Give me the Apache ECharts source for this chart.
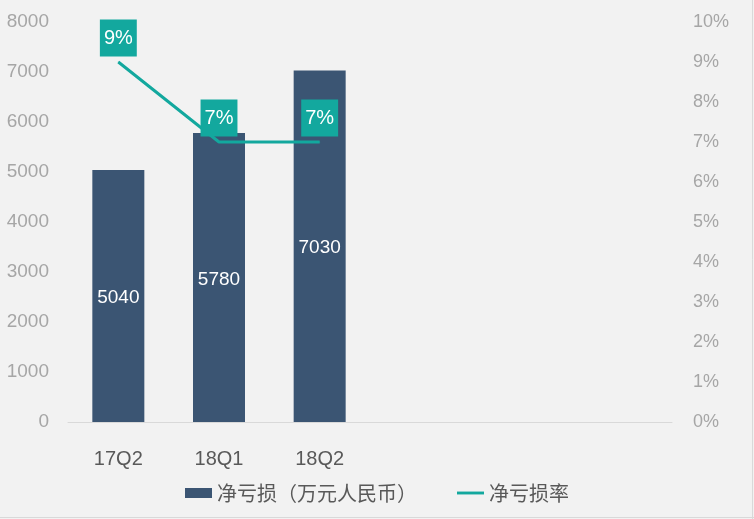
<!DOCTYPE html>
<html><head><meta charset="utf-8">
<script src="https://cdn.jsdelivr.net/npm/echarts@6/dist/echarts.min.js"></script>
<style>html,body{margin:0;padding:0;background:#f2f2f2}#c{width:754px;height:519px}</style>
</head><body><div id="c"></div>
<script>
const categories = ['17Q2', '18Q1', '18Q2', '', '', ''];
const netLoss = [5040, 5780, 7030, null, null, null];
const lossRate = [9, 7, 7, null, null, null];
const leftTicks = [0, 8000, 1000];
const rightTicks = [0, 10, 1];

const font = '"Liberation Sans", Arial, "Noto Sans CJK SC", sans-serif';
const chart = echarts.init(document.getElementById('c'));
chart.setOption({
  backgroundColor: '#f2f2f2',
  animation: false,
  textStyle: { fontFamily: font },
  grid: { left: 68, right: 82, top: 22, bottom: 97 },
  graphic: [
    { type: 'line', shape: { x1: 752.5, y1: 0, x2: 752.5, y2: 519 }, style: { stroke: '#d9d9d9', lineWidth: 1 }, silent: true },
    { type: 'line', shape: { x1: 0, y1: 517.5, x2: 754, y2: 517.5 }, style: { stroke: '#d9d9d9', lineWidth: 1 }, silent: true }
  ],
  legend: {
    bottom: 11, left: 'center', itemGap: 40, itemWidth: 27, itemHeight: 10,
    textStyle: { color: '#595959', fontSize: 20, fontFamily: '"Noto Sans CJK SC", sans-serif' },
    data: [
      { name: '净亏损（万元人民币）', icon: 'rect' },
      { name: '净亏损率', icon: 'path://M0,0L28,0L28,3L0,3Z' }
    ]
  },
  xAxis: {
    type: 'category', data: categories,
    axisLine: { lineStyle: { color: '#d9d9d9', width: 1 } },
    axisTick: { show: false },
    axisLabel: { color: '#595959', fontSize: 20, margin: 27, interval: 0 }
  },
  yAxis: [
    { type: 'value', min: leftTicks[0], max: leftTicks[1], interval: leftTicks[2],
      splitLine: { show: false }, axisLine: { show: false }, axisTick: { show: false },
      axisLabel: { color: '#a6a6a6', fontSize: 19, margin: 19, formatter: v => String(v) } },
    { type: 'value', min: rightTicks[0], max: rightTicks[1], interval: rightTicks[2],
      splitLine: { show: false }, axisLine: { show: false }, axisTick: { show: false },
      axisLabel: { color: '#a6a6a6', fontSize: 18, margin: 21, formatter: '{value}%' } }
  ],
  series: [
    { name: '净亏损（万元人民币）', type: 'bar', data: netLoss, barWidth: 52,
      itemStyle: { color: '#3b5573' },
      label: { show: true, position: 'inside', color: '#ffffff', fontSize: 19, offset: [0, 2] } },
    { name: '净亏损率', type: 'line', yAxisIndex: 1, data: lossRate,
      symbol: 'circle', symbolSize: 1, showSymbol: true,
      lineStyle: { color: '#13a89e', width: 3 },
      itemStyle: { color: '#13a89e' },
      label: { show: true, position: 'top', distance: 5, formatter: '{c}%',
        color: '#ffffff', fontSize: 20, backgroundColor: '#13a89e',
        padding: [9, 4, 8, 4] } }
  ]
});
</script></body></html>
